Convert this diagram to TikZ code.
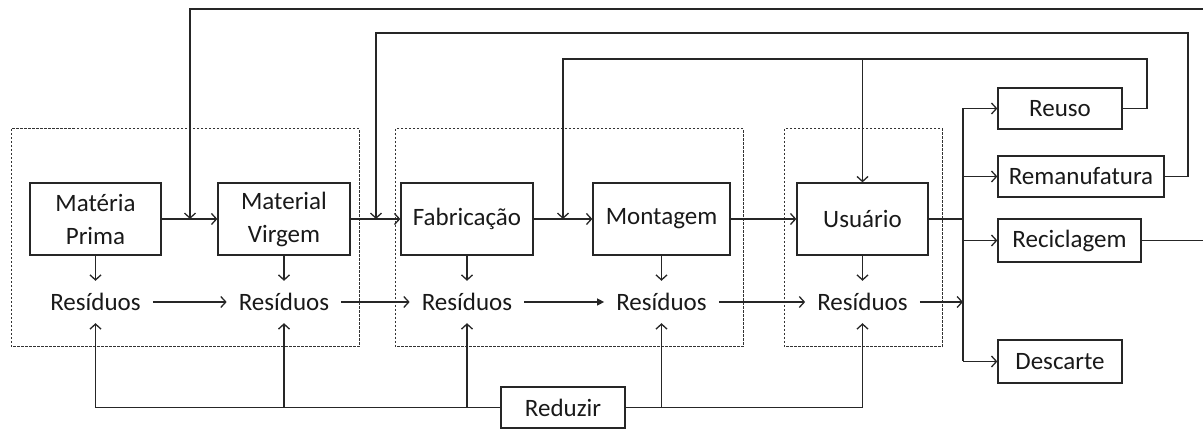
\documentclass[tikz,border=0pt]{standalone}
\usepackage{fontspec}
\setmainfont{Carlito}
\usetikzlibrary{arrows.meta}
\begin{document}
\begin{tikzpicture}[x=1pt,y=-1pt,
  box/.style={draw=black!85, line width=1.3pt, inner sep=0pt, align=center, text=black!90, font=\fontsize{25}{33}\selectfont},
  res/.style={inner xsep=12pt, inner ysep=0pt, minimum height=42pt, text=black!90, font=\fontsize{25}{33}\selectfont},
  grp/.style={draw=black!80, line width=1pt, dash pattern=on 2.5pt off 1.5pt},
  link/.style={draw=black!85, line width=1.3pt},
  arr/.style={link, -{Straight Barb[length=5pt,width=11pt]}},
  farr/.style={link, -{Triangle[length=7pt,width=7pt]}}
]
\useasboundingbox (0,0) rectangle (1203,430);

% group frames
\draw[grp] (11,129) rectangle (359,347);
\draw[grp] (395,129) rectangle (743,347);
\draw[grp] (784,129) rectangle (942,347);

% main boxes
\node[box, minimum width=131pt, minimum height=72pt] (mp)  at (95.5,219) {Matéria\\Prima};
\node[box, minimum width=132pt, minimum height=72pt] (mv)  at (284,219)  {Material\\Virgem};
\node[box, minimum width=132pt, minimum height=72pt] (fab) at (467,219)  {Fabricação};
\node[box, minimum width=137pt, minimum height=72pt] (mon) at (661.5,219) {Montagem};
\node[box, minimum width=131pt, minimum height=72pt] (usu) at (862.5,219) {Usuário};

% right boxes
\node[box, minimum width=124pt, minimum height=41pt] (reu) at (1060,108.5) {Reuso};
\node[box, minimum width=166pt, minimum height=41pt] (rem) at (1081,176.5) {Remanufatura};
\node[box, minimum width=143pt, minimum height=43pt] (rec) at (1069.5,240.5) {Reciclagem};
\node[box, minimum width=124pt, minimum height=43pt] (des) at (1060,361.5) {Descarte};

% reduzir
\node[box, minimum width=124pt, minimum height=41pt] (red) at (563,407.5) {Reduzir};

% residues
\node[res] (r1) at (95.5,302) {Resíduos};
\node[res] (r2) at (284,302) {Resíduos};
\node[res] (r3) at (467,302) {Resíduos};
\node[res] (r4) at (661.5,302) {Resíduos};
\node[res] (r5) at (862.5,302) {Resíduos};

% coordinates
\coordinate (tr) at (963,219);
\coordinate (trt) at (963,108.5);
\coordinate (trb) at (963,361.5);
\coordinate (e1) at (1203,240.5);
\coordinate (e2) at (1203,9);
\coordinate (a1) at (190,9);
\coordinate (a1e) at (190,219);
\coordinate (b1) at (1188,176.5);
\coordinate (b2) at (1188,33);
\coordinate (b3) at (376,33);
\coordinate (b3e) at (376,219);
\coordinate (c1) at (1147,108.5);
\coordinate (c2) at (1147,59);
\coordinate (c3) at (563,59);
\coordinate (c3e) at (563,219);
\coordinate (c4) at (862.5,59);
\coordinate (d1) at (95.5,407.5);
\coordinate (d2) at (284,407.5);
\coordinate (d3) at (467,407.5);
\coordinate (d4) at (661.5,407.5);
\coordinate (d5) at (862.5,407.5);

% main flow
\draw[arr] (mp) -- (mv);
\draw[arr] (mv) -- (fab);
\draw[arr] (fab) -- (mon);
\draw[arr] (mon) -- (usu);
\draw[link] (usu.east) -- (tr);
\draw[link] (trt) -- (trb);
\draw[arr] (trt) -- (reu.west);
\draw[arr] (tr |- rem.west) -- (rem.west);
\draw[arr] (tr |- rec.west) -- (rec.west);
\draw[arr] (trb) -- (des.west);

% feedback loops
\draw[link] (rec.east) -- (e1);
\draw[arr] (e2) -- (a1) -- (a1e);
\draw[arr] (rem.east) -- (b1) -- (b2) -- (b3) -- (b3e);
\draw[arr] (reu.east) -- (c1) -- (c2) -- (c3) -- (c3e);
\draw[arr] (c4) -- (usu.north);

% residues
\draw[arr] (mp) -- (r1);
\draw[arr] (mv) -- (r2);
\draw[arr] (fab) -- (r3);
\draw[arr] (mon) -- (r4);
\draw[arr] (usu) -- (r5);
\draw[arr] (r1) -- (r2);
\draw[arr] (r2) -- (r3);
\draw[farr] (r3) -- (r4);
\draw[arr] (r4) -- (r5);
\draw[arr] (r5.east) -- (tr |- r5.east);

% reduzir
\draw[arr] (red.west) -- (d1) -- (r1.south);
\draw[arr] (d2) -- (r2.south);
\draw[arr] (d3) -- (r3.south);
\draw[arr] (red.east) -- (d5) -- (r5.south);
\draw[arr] (d4) -- (r4.south);
\end{tikzpicture}
\end{document}
